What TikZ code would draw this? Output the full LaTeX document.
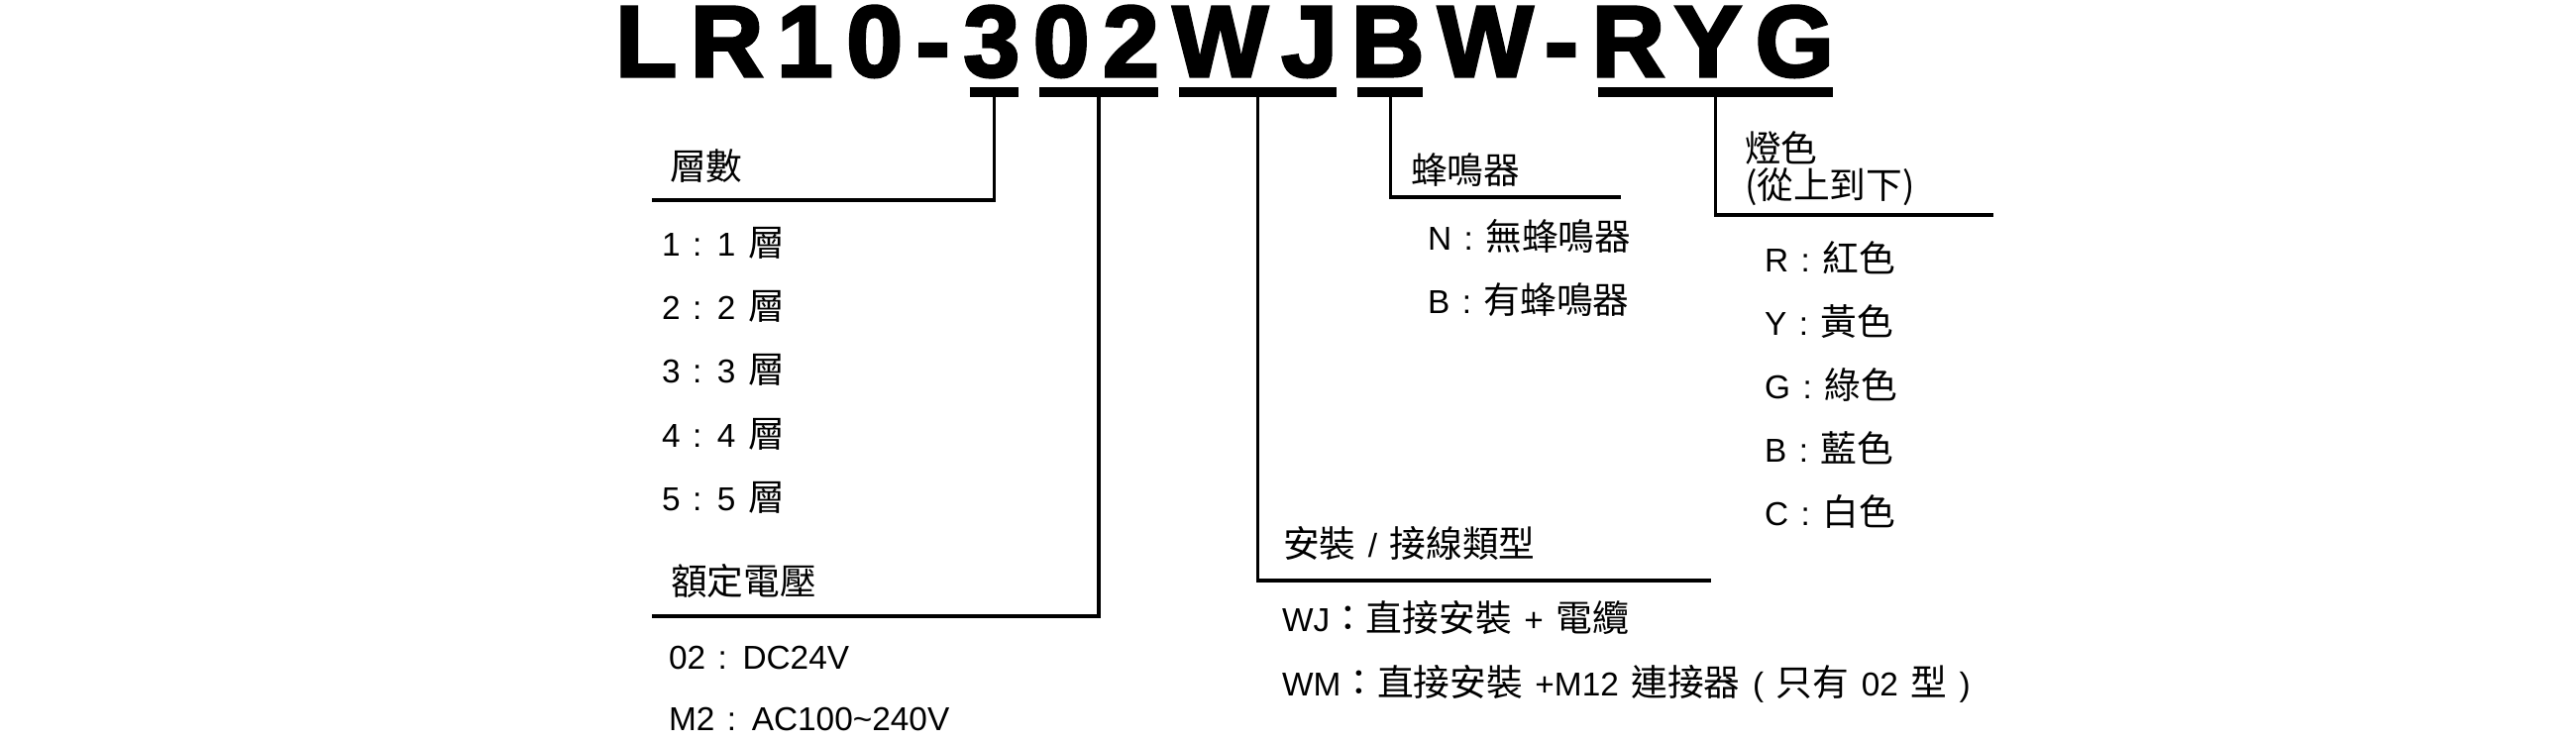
\documentclass[tikz,border=0pt]{standalone}
\usepackage{fontspec}
\setmainfont{Liberation Sans}[WordSpace=1.35]
\newfontfamily\zhfont{Noto Sans CJK TC}[Scale=1.1]
\newfontfamily\codefont{Liberation Sans}[LetterSpace=13.4, BoldFeatures={FakeBold=3}]
\newcommand{\zh}[1]{{\zhfont #1}}
\usetikzlibrary{positioning, calc}

\begin{document}
\begin{tikzpicture}[x=0.1mm, y=-0.1mm, node distance=3.9pt,
    code/.style={anchor=base west, inner sep=0pt, outer sep=0pt,
        font=\codefont\bfseries\fontsize{29}{32}\selectfont},
    entry/.style={anchor=base west, inner sep=0pt, outer sep=0pt,
        font=\fontsize{9.5}{10.5}\selectfont},
    bar/.style={line width=2.85pt},
    lead/.style={line width=0.9pt}]

    \useasboundingbox (0,0) rectangle (2600,750);

    \node[code] (cLR) at (621,77) {LR10-};
    \node[code, base right=of cLR] (c3) {3};
    \node[code, base right=of c3] (c02) {02};
    \node[code, base right=of c02] (cWJ) {WJ};
    \node[code, base right=of cWJ] (cB) {B};
    \node[code, base right=of cB] (cW) {W-};
    \node[code, base right=of cW] (cRYG) {RYG};

    \draw[bar] ($(c3.base west)+(6,16)$) -- coordinate (u3)
        ($(c3.base east)+(-1,16)$);
    \draw[bar] ($(c02.base west)+(6,16)$) -- coordinate (u02)
        ($(c02.base east)+(-1,16)$);
    \draw[bar] ($(cWJ.base west)+(6,16)$) -- coordinate (uWJ)
        ($(cWJ.base east)+(-1,16)$);
    \draw[bar] ($(cB.base west)+(6,16)$) -- coordinate (uB)
        ($(cB.base east)+(-1,16)$);
    \draw[bar] ($(cRYG.base west)+(6,16)$) -- coordinate (uRYG)
        ($(cRYG.base east)+(-1,16)$);

    \coordinate (r3) at (658,202);
    \coordinate (r02) at (658,622);
    \coordinate (rWJ) at (1727,586);
    \coordinate (rB) at (1636,199);
    \coordinate (rRYG) at (2012,217);

    \draw[lead] (u3) |- (r3);
    \draw[lead] (u02) |- (r02);
    \draw[lead] (uWJ) |- (rWJ);
    \draw[lead] (uB) |- (rB);
    \draw[lead] (uRYG) |- (rRYG);

    \node[entry] (layers) at (676,182) {\zh{層數}};
    \node[entry] (l1) at (668,259) {1 : 1 \zh{層}};
    \node[entry] (l2) at (668,323) {2 : 2 \zh{層}};
    \node[entry] (l3) at (668,387) {3 : 3 \zh{層}};
    \node[entry] (l4) at (668,451) {4 : 4 \zh{層}};
    \node[entry] (l5) at (668,515) {5 : 5 \zh{層}};

    \node[entry] (volt) at (677,600) {\zh{額定電壓}};
    \node[entry] (v02) at (675,675) {02 : DC24V};
    \node[entry] (vM2) at (675,737) {M2 : AC100\textasciitilde240V};

    \node[entry] (buzz) at (1424,186) {\zh{蜂鳴器}};
    \node[entry] (bN) at (1441,253) {N : \zh{無蜂鳴器}};
    \node[entry] (bB) at (1441,317) {B : \zh{有蜂鳴器}};

    \node[entry, anchor=north west, align=left] (lamp) at (1761,133)
        {\zh{燈色}\\\zh{(從上到下)}};
    \node[entry] (cR) at (1781,275) {R : \zh{紅色}};
    \node[entry] (cY) at (1781,339) {Y : \zh{黃色}};
    \node[entry] (cG) at (1781,403) {G : \zh{綠色}};
    \node[entry] (cBl) at (1781,466) {B : \zh{藍色}};
    \node[entry] (cC) at (1781,530) {C : \zh{白色}};

    \node[entry] (mount) at (1295,563) {\zh{安裝} / \zh{接線類型}};
    \node[entry] (mWJ) at (1294,637) {WJ\zh{：直接安裝} + \zh{電纜}};
    \node[entry] (mWM) at (1294,702)
        {WM\zh{：直接安裝} +M12 \zh{連接器} ( \zh{只有} 02 \zh{型} )};

\end{tikzpicture}
\end{document}
